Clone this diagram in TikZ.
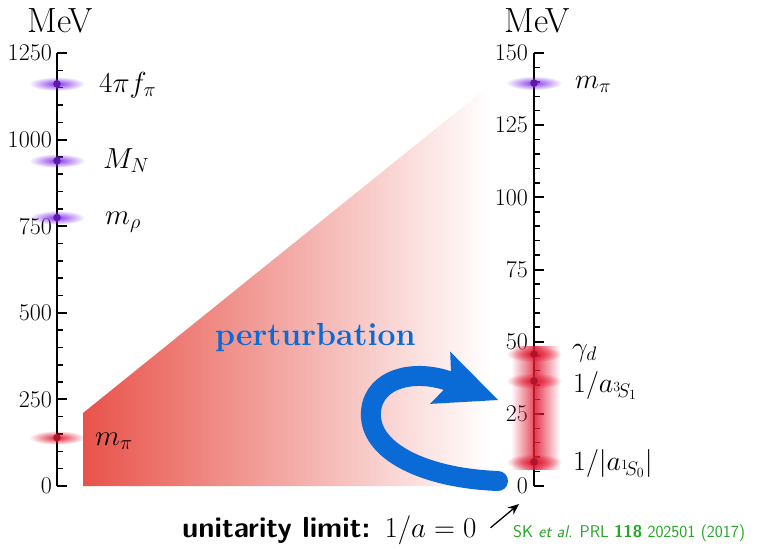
\RequirePackage{fix-cm}
\documentclass[tikz,border=0pt]{standalone}
\usepackage{fontspec}
\usetikzlibrary{arrows.meta,fadings}

\definecolor{wallred}{RGB}{232,83,74}
\definecolor{pertblue}{RGB}{10,106,214}
\definecolor{glowviolet}{RGB}{135,55,235}
\definecolor{dotviolet}{RGB}{95,25,170}
\definecolor{glowred}{RGB}{225,30,55}
\definecolor{dotred}{RGB}{175,20,40}
\definecolor{citegreen}{RGB}{40,165,40}

\tikzfading[name=glowfade, inner color=transparent!0, outer color=transparent!100]
\tikzfading[name=bandfade, left color=transparent!100, right color=transparent!100,
  middle color=transparent!15]

\begin{document}
\begin{tikzpicture}[x=1pt, y=-1pt,
  axisline/.style={line width=2.6pt},
  minortick/.style={line width=1.5pt},
  majortick/.style={line width=2pt},
  numlab/.style={anchor=east, inner sep=0pt, font=\fontsize{24}{24}\selectfont},
  unitlab/.style={anchor=base, inner sep=0pt, font=\fontsize{35}{35}\selectfont},
  leftlab/.style={anchor=base west, inner sep=0pt, font=\fontsize{29}{29}\selectfont},
  rightlab/.style={anchor=base west, inner sep=0pt, font=\fontsize{28}{28}\selectfont}]
\useasboundingbox (0,0) rectangle (758,549);

\def\yo{486}     % 0 MeV
\def\lx{57}
\def\rx{534}
\def\lsc{0.3464} % 433/1250
\def\rsc{2.8867} % 433/150

%--- Keil ---
\shade[left color=wallred, right color=white]
  (83,486) -- (83,413) -- (490,85) -- (490,486) -- cycle;

%--- Pfeil ---
\draw[pertblue, line width=20pt, line cap=round,
  -{Stealth[length=62pt, width=56pt, inset=12pt, line width=0pt]}]
  (498,481) .. controls (420,478) and (362,448) .. (372,405)
  .. controls (380,375) and (420,370) .. (498,400);
\node[anchor=base west, inner sep=0pt, text=pertblue,
  font=\fontsize{32}{32}\selectfont\bfseries] (pert) at (215,345) {perturbation};

%--- linke Achse ---
\draw[axisline] (\lx,\yo) -- (\lx,53);
\foreach \v in {0,50,...,1250}{
  \pgfmathsetmacro{\yy}{\yo-\v*\lsc}
  \draw[minortick] (\lx,\yy) -- ++(6,0);
}
\foreach \v in {0,250,...,1250}{
  \pgfmathsetmacro{\yy}{\yo-\v*\lsc}
  \draw[majortick] (\lx,\yy) -- ++(10,0);
  \node[numlab] (l\v) at (\lx-5,\yy) {\v};
}
\node[unitlab] (lunit) at (60,32) {MeV};

%--- rechte Achse ---
\draw[axisline] (\rx,\yo) -- (\rx,53);
\foreach \v in {0,5,...,150}{
  \pgfmathsetmacro{\yy}{\yo-\v*\rsc}
  \draw[minortick] (\rx,\yy) -- ++(6,0);
}
\foreach \v in {0,25,...,150}{
  \pgfmathsetmacro{\yy}{\yo-\v*\rsc}
  \draw[majortick] (\rx,\yy) -- ++(10,0);
  \node[numlab] (r\v) at (\rx-6,\yy) {\v};
}
\node[unitlab] (runit) at (537,32) {MeV};

%--- Skalen links ---
\foreach \v in {1161,939,775}{
  \pgfmathsetmacro{\yy}{\yo-\v*\lsc}
  \fill[glowviolet, path fading=glowfade] (\lx,\yy) ellipse [x radius=28, y radius=7];
  \fill[dotviolet] (\lx,\yy) circle (3.8);
}
\pgfmathsetmacro{\yy}{\yo-139.6*\lsc}
\fill[glowred, path fading=glowfade] (\lx,\yy) ellipse [x radius=28, y radius=7];
\fill[dotred] (\lx,\yy) circle (3.8);

\node[leftlab] (fpi) at (99,92) {$4\pi f_\pi$};
\node[leftlab] (mn) at (103,168) {$M_N$};
\node[leftlab] (mrho) at (105,224) {$m_\rho$};
\node[leftlab] (lmpi) at (95,445) {$m_\pi$};

%--- Skalen rechts ---
\pgfmathsetmacro{\yy}{\yo-139.57*\rsc}
\fill[glowviolet, path fading=glowfade] (\rx,\yy) ellipse [x radius=28, y radius=7];
\fill[dotviolet] (\rx,\yy) circle (3.8);

% Band
\fill[glowred, path fading=bandfade] (511,346) rectangle (560,470);
\foreach \v in {45.7,36.4,8.32}{
  \pgfmathsetmacro{\yy}{\yo-\v*\rsc}
  \fill[glowred, path fading=glowfade] (\rx,\yy) ellipse [x radius=28, y radius=8];
  \fill[dotred] (\rx,\yy) circle (3.8);
}

\node[rightlab] (rmpi) at (575,88) {$m_\pi$};
\node[rightlab] (gamd) at (572,356) {$\gamma_d$};
\node[rightlab] (atrip) at (573,392) {$1/a_{{}^3\!S_1}$};
\node[rightlab] (asing) at (573,470) {$1/|a_{{}^1\!S_0}|$};

%--- Unitaritaet ---
\node[anchor=base west, inner sep=0pt,
  font=\fontsize{29}{29}\selectfont\sffamily\bfseries] (unit) at (182,537)
  {unitarity limit: $1/a=0$};
\coordinate (zeroptr) at (519,504);
\draw[-{Stealth[length=11pt,width=9pt]}, line width=1.3pt]
  ([xshift=14pt,yshift=2pt]unit.east) -- (zeroptr);

\node[anchor=base west, inner sep=0pt, text=citegreen,
  font=\fontsize{17}{17}\selectfont\sffamily] (cite) at (513,537)
  {SK \textit{et al.} PRL \textbf{118} 202501 (2017)};

\end{tikzpicture}
\end{document}
